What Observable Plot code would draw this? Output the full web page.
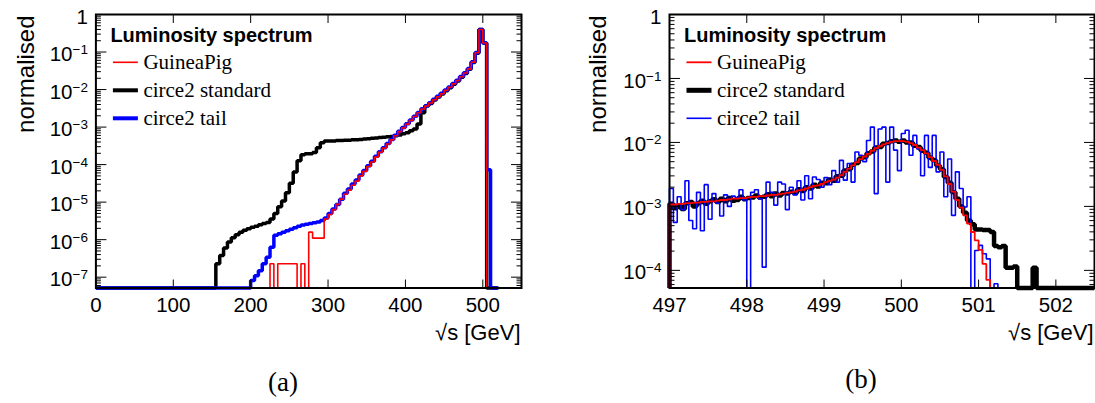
<!DOCTYPE html>
<html><head><meta charset="utf-8">
<script src="https://cdn.jsdelivr.net/npm/d3@7"></script>
<script src="https://cdn.jsdelivr.net/npm/@observablehq/plot@0.6"></script>
<style>
body{margin:0;background:#fff;}
#wrap{position:relative;width:1095px;height:403px;overflow:hidden;background:#fff}
.panel{position:absolute;top:0}
.cap{position:absolute;font-family:"Liberation Serif",serif;font-size:27px;line-height:27px;transform:translateX(-50%);color:#000}
</style></head><body>
<div id="wrap">
  <div id="pa" class="panel" style="left:0"></div>
  <div id="pb" class="panel" style="left:547px"></div>
  <div class="cap" style="left:283px;top:369px">(a)</div>
  <div class="cap" style="left:861px;top:366px">(b)</div>
</div>
<script>
// ---------- text ----------
const seriesNames = ["GuineaPig", "circe2 standard", "circe2 tail"];
const legendTitle = "Luminosity spectrum";
const yAxisTitle = "normalised";
const xAxisTitle = "√s [GeV]";

// ---------- panel (a): 5 GeV bins from 150 GeV; values are log10(normalised), null = empty bin ----------
const histStartA = 0, firstBinA = 150, binWidthA = 5, histEndA = 520;
const standardA = [
  null,-6.64,-6.42,-6.22,-6.06,-5.95,-5.87,-5.80,-5.75,-5.71,
  -5.67,-5.64,-5.60,-5.57,-5.54,-5.45,-5.30,-5.12,-4.97,-4.75,
  -4.50,-4.20,-3.90,-3.74,-3.71,-3.71,-3.68,-3.55,-3.42,-3.37,
  -3.37,-3.37,-3.36,-3.36,-3.35,-3.35,-3.34,-3.34,-3.33,-3.32,
  -3.31,-3.30,-3.29,-3.28,-3.27,-3.26,-3.25,-3.23,-3.21,-3.18,
  -3.15,-3.10,-3.05,-2.92,-2.62,-2.44,-2.37,-2.28,-2.20,-2.12,
  -2.03,-1.95,-1.86,-1.77,-1.67,-1.57,-1.46,-1.28,-1.03,-0.40,
  -0.76,null,null,null];
const guineaPigA = [
  null,null,null,null,null,null,null,null,null,null,
  null,null,null,null,null,-6.64,null,-6.64,-6.64,-6.64,
  -6.64,-6.64,null,-6.64,null,-5.80,-5.96,-5.96,-5.96,-5.45,
  -5.33,-5.20,-5.06,-4.92,-4.79,-4.68,-4.55,-4.44,-4.30,-4.18,
  -4.05,-3.93,-3.80,-3.67,-3.56,-3.45,-3.34,-3.23,-3.12,-3.02,
  -2.92,-2.82,-2.72,-2.62,-2.52,-2.44,-2.36,-2.27,-2.19,-2.11,
  -2.02,-1.94,-1.85,-1.76,-1.66,-1.56,-1.45,-1.27,-1.02,-0.40,
  -0.76,null,null,null];
const tailA = [
  null,null,null,null,null,null,null,null,null,null,
  -7.09,-6.96,-6.83,-6.64,-6.47,-6.20,-5.88,-5.84,-5.80,-5.76,
  -5.72,-5.68,-5.64,-5.61,-5.59,-5.57,-5.55,-5.53,-5.49,-5.42,
  -5.30,-5.18,-5.06,-4.92,-4.76,-4.65,-4.52,-4.41,-4.28,-4.16,
  -4.03,-3.91,-3.78,-3.66,-3.55,-3.44,-3.33,-3.22,-3.11,-3.01,
  -2.91,-2.81,-2.71,-2.61,-2.51,-2.43,-2.35,-2.26,-2.18,-2.10,
  -2.01,-1.93,-1.84,-1.75,-1.65,-1.55,-1.44,-1.26,-1.01,-0.40,
  -0.76,-4.14,null,null];
const xDomainA = [0, 550];
const yDomainA = [5.15e-8, 1];
const xTicksA = [0, 100, 200, 300, 400, 500];
const yTicksA = [1e-7, 1e-6, 1e-5, 1e-4, 1e-3, 1e-2, 1e-1, 1];
const yTickLabelsA = ["10^−7","10^−6","10^−5","10^−4","10^−3","10^−2","10^−1","1"];

// ---------- panel (b): 0.05 GeV bins from 497 GeV ----------
const histStartB = 497, firstBinB = 497, binWidthB = 0.05, histEndB = 502.5;
const guineaPigB = [
  -2.97,-2.97,-2.96,-2.96,-2.95,-2.95,-2.94,-2.94,-2.93,-2.93,
  -2.92,-2.92,-2.91,-2.90,-2.90,-2.89,-2.88,-2.88,-2.87,-2.87,
  -2.86,-2.85,-2.85,-2.84,-2.84,-2.83,-2.82,-2.82,-2.81,-2.80,
  -2.79,-2.78,-2.77,-2.75,-2.74,-2.72,-2.70,-2.68,-2.67,-2.65,
  -2.62,-2.60,-2.58,-2.55,-2.51,-2.46,-2.41,-2.36,-2.31,-2.26,
  -2.22,-2.18,-2.13,-2.09,-2.06,-2.03,-2.01,-1.99,-1.98,-1.98,
  -1.98,-1.99,-2.01,-2.04,-2.08,-2.12,-2.17,-2.23,-2.29,-2.35,
  -2.43,-2.53,-2.65,-2.77,-2.90,-3.02,-3.14,-3.27,-3.40,-3.53,
  -3.68,-3.90,-4.15,null,null,null,null,null,null,null,
  null,null,null,null,null,null,null,null,null,null,
  null,null,null,null,null,null,null,null,null,null];
const standardB = [
  -2.96,-3.03,-2.99,-3.04,-2.95,-2.93,-3.00,-2.95,-2.91,-2.96,
  -2.92,-2.89,-2.93,-2.88,-2.92,-2.87,-2.91,-2.90,-2.85,-2.89,
  -2.87,-2.86,-2.83,-2.86,-2.85,-2.81,-2.84,-2.80,-2.83,-2.79,
  -2.80,-2.77,-2.79,-2.73,-2.76,-2.70,-2.72,-2.66,-2.69,-2.63,
  -2.64,-2.58,-2.60,-2.53,-2.52,-2.44,-2.42,-2.35,-2.32,-2.25,
  -2.23,-2.17,-2.14,-2.08,-2.07,-2.02,-2.01,-1.98,-1.97,-1.99,
  -1.97,-2.00,-2.00,-2.05,-2.07,-2.13,-2.16,-2.24,-2.28,-2.36,
  -2.42,-2.54,-2.63,-2.78,-2.88,-3.00,-3.10,-3.22,-3.28,-3.36,
  -3.36,-3.37,-3.37,-3.40,-3.62,-3.64,-3.62,-3.96,-3.96,-3.94,
  null,null,null,null,-3.96,null,null,null,null,null,
  null,null,null,null,null,null,null,null,null,null];
const tailB = [
  -2.72,-3.25,-2.85,-3.05,-2.60,-3.22,-3.35,-2.78,-3.38,-2.66,
  -3.20,-2.80,-2.95,-3.15,-2.82,-3.00,-2.84,-2.86,-2.74,-2.90,
  null,-2.78,-2.74,-2.88,-3.95,-2.62,-2.78,-2.98,-2.62,-2.65,
  -3.05,-2.70,-2.82,-2.60,-2.90,-2.52,-2.88,-2.54,-2.58,-2.70,
  -2.55,-2.66,-2.44,-2.62,-2.28,-2.59,-2.33,-2.62,-2.15,-2.20,
  -2.30,-1.97,-1.76,-2.80,-1.79,-1.76,-2.62,-1.76,-2.12,-2.44,
  -1.86,-1.81,-2.20,-1.89,-2.10,-2.52,-1.89,-2.39,-1.89,-2.46,
  -2.15,-2.85,-2.26,-3.14,-2.46,-2.72,-3.01,-2.85,null,-3.69,
  -3.61,-3.74,-3.82,null,-4.21,null,null,null,null,null,
  null,null,null,null,null,null,null,null,null,null,
  null,null,null,null,null,null,null,null,null,null];
const xDomainB = [497, 502.5];
const yDomainB = [5.3e-5, 1];
const xTicksB = [497, 498, 499, 500, 501, 502];
const yTicksB = [1e-4, 1e-3, 1e-2, 1e-1, 1];
const yTickLabelsB = ["10^−4","10^−3","10^−2","10^−1","1"];

// ---------- helpers ----------
const NS = "http://www.w3.org/2000/svg";
function histPoints(logs, start, first, width, end, floor) {
  const val = v => (v == null ? floor : Math.pow(10, v));
  const pts = [{x: start, y: floor}];
  logs.forEach((v, i) => pts.push({x: first + i * width, y: val(v)}));
  pts.push({x: end, y: val(logs[logs.length - 1])});
  return pts;
}
function minorTicks(domain) {
  const out = [];
  for (let e = Math.floor(Math.log10(domain[0])); e < Math.ceil(Math.log10(domain[1])); e++)
    for (let m = 2; m <= 9; m++) { const v = m * Math.pow(10, e); if (v >= domain[0] && v <= domain[1]) out.push(v); }
  return out;
}
function el(tag, attrs, text) {
  const e = document.createElementNS(NS, tag);
  for (const k in attrs) e.setAttribute(k, attrs[k]);
  if (text != null) e.textContent = text;
  return e;
}

function panel(cfg) {
  const H = 345, mt = 14, mb = 57.5;
  const floor = cfg.yDomain[0];
  const lineOpts = {x: "x", y: "y", curve: "step-after", strokeLinejoin: "miter", strokeLinecap: "butt"};
  const labelMap = new Map(cfg.yTicks.map((t, i) => [t, cfg.yTickLabels[i]]));
  const none = () => "";
  const svg = Plot.plot({
    width: cfg.width, height: H,
    marginLeft: cfg.ml, marginRight: cfg.mr, marginTop: mt, marginBottom: mb,
    style: {fontFamily: "'Liberation Sans', Arial, sans-serif", fontSize: "20.5px", background: "white", overflow: "visible", color: "#000"},
    x: {domain: cfg.xDomain, label: null},
    y: {type: "log", domain: cfg.yDomain, label: null},
    marks: [
      Plot.line(histPoints(cfg.standard, cfg.start, cfg.first, cfg.bw, cfg.end, floor), {...lineOpts, stroke: "#000000", strokeWidth: cfg.blackW}),
      Plot.line(histPoints(cfg.tail, cfg.start, cfg.first, cfg.bw, cfg.end, floor), {...lineOpts, stroke: "#0000ff", strokeWidth: cfg.blueW}),
      Plot.line(histPoints(cfg.guinea, cfg.start, cfg.first, cfg.bw, cfg.end, floor), {...lineOpts, stroke: "#ff0000", strokeWidth: cfg.redW}),
      // inward tick marks on all four sides
      Plot.axisY({anchor: "left", ticks: cfg.yTicks, tickSize: -11, tickFormat: none, label: null}),
      Plot.axisY({anchor: "left", ticks: minorTicks(cfg.yDomain), tickSize: -5.5, tickFormat: none, label: null}),
      Plot.axisY({anchor: "right", ticks: cfg.yTicks, tickSize: -11, tickFormat: none, label: null}),
      Plot.axisY({anchor: "right", ticks: minorTicks(cfg.yDomain), tickSize: -5.5, tickFormat: none, label: null}),
      Plot.axisX({anchor: "bottom", ticks: cfg.xTicks, tickSize: -8, tickFormat: none, label: null}),
      Plot.axisX({anchor: "top", ticks: cfg.xTicks, tickSize: -8, tickFormat: none, label: null}),
      // tick labels
      Plot.axisY({anchor: "left", ticks: cfg.yTicks, tickSize: 0, tickPadding: 8, dy: 2.5, tickFormat: d => labelMap.get(d), label: null}),
      Plot.axisX({anchor: "bottom", ticks: cfg.xTicks, tickSize: 0, tickPadding: 9.5, tickFormat: d => String(d), label: null}),
      // axis titles
      Plot.text([yAxisTitle], {frameAnchor: "top-left", rotate: -90, textAnchor: "end", lineAnchor: "bottom", dx: cfg.yTitleDx, dy: 1, fontSize: 24}),
      Plot.text([xAxisTitle], {frameAnchor: "bottom-right", textAnchor: "end", lineAnchor: "bottom", dx: -1, dy: 52, fontSize: 22}),
      Plot.frame({stroke: "#000", strokeWidth: 2})
    ]
  });
  // superscripts in y tick labels
  svg.querySelectorAll("text").forEach(t => {
    const s = t.textContent;
    const k = s.indexOf("^");
    if (k < 0 || t.children.length) return;
    t.textContent = "";
    t.append(el("tspan", {}, s.slice(0, k)), el("tspan", {dy: "-7", "font-size": "13.5"}, s.slice(k + 1)));
  });
  // legend (inside frame, top-left)
  const L = cfg.ml;
  const g = el("g", {"aria-label": "legend", "text-anchor": "start"});
  g.append(el("text", {x: L + 15, y: 41.7, "text-anchor": "start", "font-family": "'Liberation Sans', Arial, sans-serif", "font-weight": "bold", "font-size": 20, fill: "#000"}, legendTitle));
  const rows = [
    {name: seriesNames[0], color: "#ff0000", w: cfg.redW, y: 69},
    {name: seriesNames[1], color: "#000000", w: cfg.legendBlackW, y: 97},
    {name: seriesNames[2], color: "#0000ff", w: cfg.legendBlueW, y: 125}
  ];
  rows.forEach(r => {
    g.append(el("line", {x1: L + 17.5, x2: L + 42.5, y1: r.y - 6.7, y2: r.y - 6.7, stroke: r.color, "stroke-width": r.w}));
    g.append(el("text", {x: L + 48, y: r.y, "text-anchor": "start", "font-family": "'Liberation Serif', 'Times New Roman', serif", "font-size": 21, fill: "#000"}, r.name));
  });
  svg.append(g);
  return svg;
}

document.getElementById("pa").append(panel({
  width: 547, ml: 95.4, mr: 26, xDomain: xDomainA, yDomain: yDomainA, xTicks: xTicksA, yTicks: yTicksA, yTickLabels: yTickLabelsA,
  start: histStartA, first: firstBinA, bw: binWidthA, end: histEndA,
  standard: standardA, tail: tailA, guinea: guineaPigA,
  blackW: 3.5, blueW: 3.5, redW: 1.6, legendBlackW: 4, legendBlueW: 4, yTitleDx: -62
}));
document.getElementById("pb").append(panel({
  width: 548, ml: 122, mr: 1, xDomain: xDomainB, yDomain: yDomainB, xTicks: xTicksB, yTicks: yTicksB, yTickLabels: yTickLabelsB,
  start: histStartB, first: firstBinB, bw: binWidthB, end: histEndB,
  standard: standardB, tail: tailB, guinea: guineaPigB,
  blackW: 4.5, blueW: 1.6, redW: 1.8, legendBlackW: 5, legendBlueW: 1.6, yTitleDx: -64
}));
</script>
</body></html>
